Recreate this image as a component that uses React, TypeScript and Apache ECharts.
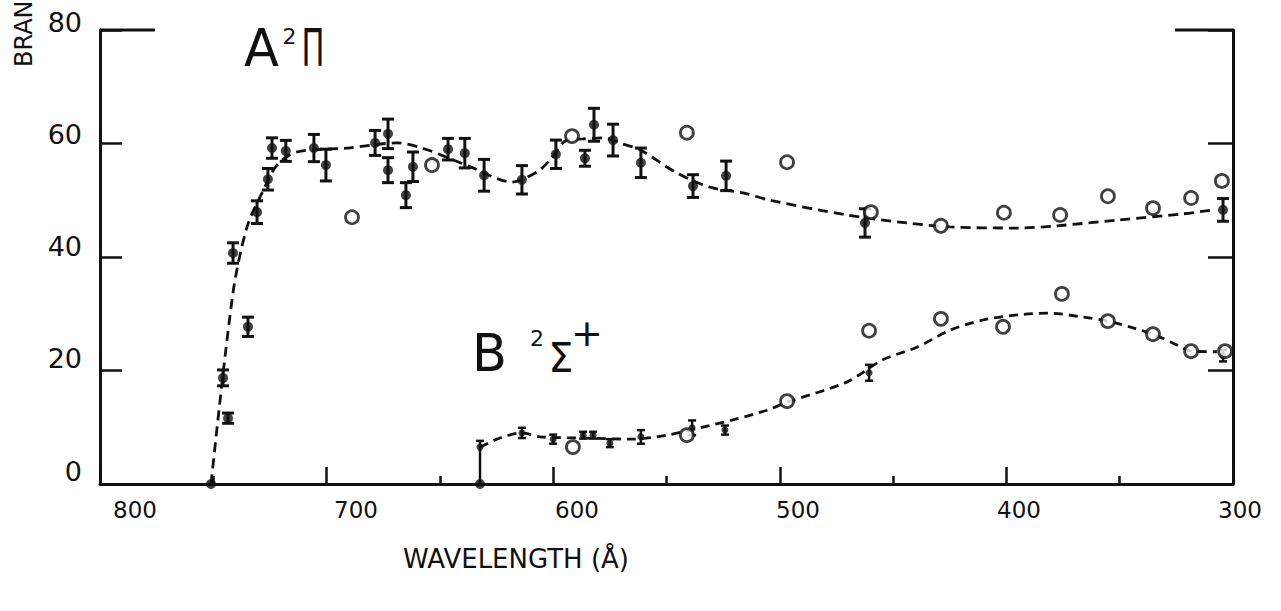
import { useEffect, useRef } from "react";
import * as echarts from "echarts";

// ---- tick labels ----
const xTickLabels = [800, 700, 600, 500, 400, 300];
const yTickLabels = [0, 20, 40, 60, 80];

// ---- A²Π : filled points with error bars ----
const aWave = [745.7, 743.5, 741.3, 734.7, 730.7, 725.9, 724.1, 718.0, 705.6, 700.3, 678.6, 672.9, 672.9, 665.0, 661.9, 646.4, 639.0, 630.5, 613.8, 598.8, 586.0, 582.0, 573.6, 561.3, 538.3, 523.7, 462.4, 304.4];
const aValue = [18.7, 11.6, 40.7, 27.7, 47.9, 53.7, 59.2, 58.7, 59.2, 56.2, 60.1, 61.7, 55.3, 50.9, 55.9, 59.0, 58.3, 54.4, 53.6, 58.1, 57.4, 63.3, 60.6, 56.6, 52.5, 54.3, 46.0, 48.3];
const aErr = [1.4, 0.9, 1.8, 1.7, 2.0, 1.9, 1.8, 1.85, 2.4, 2.8, 2.2, 2.6, 2.2, 2.2, 2.6, 1.9, 2.6, 2.8, 2.5, 2.5, 1.4, 2.9, 2.8, 2.6, 2.0, 2.6, 2.5, 2.0];

// ---- A²Π : open circles ----
const aOpenWave = [688.8, 653.5, 591.7, 541.0, 496.8, 459.8, 428.9, 401.1, 376.3, 355.2, 335.3, 318.5, 304.9];
const aOpenValue = [47.0, 56.2, 61.3, 61.9, 56.7, 47.9, 45.5, 47.8, 47.4, 50.7, 48.6, 50.4, 53.4];

// ---- A²Π : dashed fit ----
const aFitWave = [751.0, 741.3, 735.1, 728.5, 721.9, 713.1, 691.0, 668.9, 655.7, 635.4, 618.2, 607.1, 601.4, 593.9, 586.9, 578.0, 569.2, 561.7, 545.4, 530.8, 516.2, 504.3, 470.3, 443.9, 424.9, 395.3, 377.7, 351.2, 322.1, 308.8];
const aFitValue = [0, 33.7, 45.3, 51.3, 56.2, 58.5, 59.2, 60.1, 58.9, 55.7, 53.2, 55.0, 57.1, 60.6, 60.8, 61.0, 59.9, 58.9, 54.8, 52.3, 51.3, 50.0, 47.4, 46.0, 45.3, 45.1, 45.5, 46.5, 47.6, 48.3];

// ---- B²Σ+ : filled points with error bars ----
const bWave = [613.8, 600.0, 586.8, 582.4, 575.0, 561.3, 538.7, 524.2, 460.6, 304.4];
const bValue = [9.0, 7.9, 8.6, 8.6, 7.2, 8.3, 9.9, 9.5, 19.6, 22.6];
const bErr = [0.9, 0.8, 0.6, 0.6, 0.7, 1.2, 1.3, 0.8, 1.4, 1.0];

// B²Σ+ onset point: bar from zero up to the point
const bStemWave = [632.3];
const bStemTop = [7.6];
const bStemValue = [6.5];

// ---- B²Σ+ : open circles ----
const bOpenWave = [591.3, 541.0, 496.8, 460.6, 428.9, 401.5, 375.5, 355.2, 335.3, 318.5, 303.5];
const bOpenValue = [6.5, 8.6, 14.6, 27.0, 29.1, 27.7, 33.5, 28.7, 26.4, 23.4, 23.4];

// ---- B²Σ+ : dashed fit ----
const bFitWave = [632.3, 623.5, 613.8, 605.8, 585.1, 564.8, 549.8, 535.2, 520.7, 505.7, 496.8, 470.3, 454.5, 439.5, 424.9, 410.3, 395.3, 380.8, 366.2, 355.2, 344.1, 335.3, 324.7, 318.5, 307.1];
const bFitValue = [6.5, 8.1, 9.0, 8.3, 8.1, 7.9, 8.6, 9.9, 11.3, 13.0, 14.4, 18.0, 21.9, 24.1, 27.1, 28.9, 29.8, 30.1, 29.4, 28.7, 27.5, 26.4, 24.5, 23.4, 23.3];

// ---- threshold points on the axis ----
const zeroWave = [751.0, 632.3];
const zeroValue = [0, 0];

const INK = "#111";
const FONT = "DejaVu Sans";

function errorBarSeries(data: number[][], capHalf: number, width: number) {
  return {
    type: "custom",
    xAxisIndex: 0,
    yAxisIndex: 0,
    z: 4,
    encode: { x: 0, y: [1, 2] },
    data,
    renderItem: (_params: any, api: any) => {
      const x = api.value(0);
      const lo = api.coord([x, api.value(1)]);
      const hi = api.coord([x, api.value(2)]);
      const style = { stroke: INK, lineWidth: width, fill: null };
      return {
        type: "group",
        children: [
          { type: "line", shape: { x1: lo[0], y1: lo[1], x2: hi[0], y2: hi[1] }, style },
          { type: "line", shape: { x1: lo[0] - capHalf, y1: lo[1], x2: lo[0] + capHalf, y2: lo[1] }, style },
          { type: "line", shape: { x1: hi[0] - capHalf, y1: hi[1], x2: hi[0] + capHalf, y2: hi[1] }, style },
        ],
      };
    },
  };
}

export default function App() {
  const ref = useRef<HTMLDivElement>(null);

  useEffect(() => {
    if (!ref.current) return;
    const chart = echarts.init(ref.current, null, { renderer: "svg" });

    const zip = (xs: number[], ys: number[]) => xs.map((x, i) => [x, ys[i]]);

    const option: any = {
      animation: false,
      backgroundColor: "#fff",
      grid: [
        { left: 100, right: 48, top: 30, bottom: 127 },
        // label-only grid (the printed tick labels sit slightly off the ticks)
        { left: 135, right: 41, top: 22, bottom: 140 },
      ],
      xAxis: [
        {
          type: "value",
          gridIndex: 0,
          position: "bottom",
          min: 300,
          max: 800,
          interval: 100,
          inverse: true,
          axisLine: { show: true, onZero: false, lineStyle: { color: INK, width: 3 } },
          axisTick: { show: true, inside: true, length: 17, lineStyle: { color: INK, width: 2.5 } },
          minorTick: { show: true, splitNumber: 2, length: 8, lineStyle: { color: INK, width: 2.5 } },
          axisLabel: { show: false },
          splitLine: { show: false },
        },
        {
          type: "value",
          gridIndex: 1,
          position: "bottom",
          min: 300,
          max: 800,
          interval: 100,
          inverse: true,
          axisLine: { show: false, onZero: false },
          axisTick: { show: false },
          splitLine: { show: false },
          axisLabel: {
            show: true,
            customValues: xTickLabels,
            showMinLabel: true,
            showMaxLabel: true,
            margin: 27,
            color: INK,
            fontFamily: FONT,
            fontSize: 23,
          },
        },
      ],
      yAxis: [
        {
          type: "value",
          gridIndex: 0,
          position: "left",
          min: 0,
          max: 80,
          interval: 20,
          axisLine: { show: true, onZero: false, lineStyle: { color: INK, width: 3 } },
          axisTick: { show: true, inside: true, length: 22, lineStyle: { color: INK, width: 2.5 } },
          axisLabel: { show: false },
          splitLine: { show: false },
        },
        {
          type: "value",
          gridIndex: 0,
          position: "right",
          min: 0,
          max: 80,
          interval: 20,
          axisLine: { show: true, onZero: false, lineStyle: { color: INK, width: 3 } },
          axisTick: { show: true, inside: true, length: 25, lineStyle: { color: INK, width: 2.5 } },
          axisLabel: { show: false },
          splitLine: { show: false },
        },
        {
          type: "value",
          gridIndex: 1,
          position: "left",
          min: 0,
          max: 80,
          interval: 20,
          axisLine: { show: false, onZero: false },
          axisTick: { show: false },
          splitLine: { show: false },
          axisLabel: {
            show: true,
            customValues: yTickLabels,
            showMinLabel: true,
            showMaxLabel: true,
            margin: 53,
            color: INK,
            fontFamily: FONT,
            fontSize: 27,
          },
        },
      ],
      series: [
        {
          type: "line",
          data: zip(aFitWave, aFitValue),
          smooth: 0.3,
          showSymbol: false,
          z: 2,
          lineStyle: { color: INK, width: 2.8, type: [10, 6] },
        },
        {
          type: "line",
          data: zip(bFitWave, bFitValue),
          smooth: 0.3,
          showSymbol: false,
          z: 2,
          lineStyle: { color: INK, width: 2.8, type: [9, 6] },
        },
        errorBarSeries(aWave.map((w, i) => [w, aValue[i] - aErr[i], aValue[i] + aErr[i]]), 6, 3),
        errorBarSeries(bWave.map((w, i) => [w, bValue[i] - bErr[i], bValue[i] + bErr[i]]), 4, 2.5),
        errorBarSeries(bStemWave.map((w, i) => [w, 0, bStemTop[i]]), 4, 2.5),
        {
          type: "scatter",
          data: zip(aWave, aValue),
          symbol: "circle",
          symbolSize: 10,
          z: 5,
          itemStyle: { color: INK },
        },
        {
          type: "scatter",
          data: zip(bWave, bValue).concat(zip(bStemWave, bStemValue)),
          symbol: "circle",
          symbolSize: 7,
          z: 5,
          itemStyle: { color: INK },
        },
        {
          type: "scatter",
          data: zip(zeroWave, zeroValue),
          symbol: "circle",
          symbolSize: 10,
          z: 5,
          itemStyle: { color: INK },
        },
        {
          type: "scatter",
          data: zip(aOpenWave, aOpenValue).concat(zip(bOpenWave, bOpenValue)),
          symbol: "circle",
          symbolSize: 13,
          z: 6,
          itemStyle: { color: "#fff", borderColor: INK, borderWidth: 2.8 },
        },
      ],
      graphic: [
        // partial top frame
        { type: "line", shape: { x1: 100, y1: 30, x2: 155, y2: 30 }, style: { stroke: INK, lineWidth: 3 } },
        { type: "line", shape: { x1: 1175, y1: 30, x2: 1233, y2: 30 }, style: { stroke: INK, lineWidth: 3 } },
        // y-axis title as printed (only its beginning is visible)
        {
          type: "text",
          x: 12,
          y: 67,
          rotation: Math.PI / 2,
          style: { text: "BRAN", fill: INK, font: `24px "${FONT}"`, align: "left", verticalAlign: "top" },
        },
        // x-axis title
        {
          type: "text",
          x: 516,
          y: 559,
          style: { text: "WAVELENGTH (Å)", fill: INK, font: `26px "${FONT}"`, align: "center", verticalAlign: "middle" },
        },
        // A²Π label
        { type: "text", x: 261.5, y: 48.5, style: { text: "A", fill: INK, font: `51px "${FONT}"`, align: "center", verticalAlign: "middle" } },
        { type: "text", x: 289.5, y: 36, style: { text: "2", fill: INK, font: `22px "${FONT}"`, align: "center", verticalAlign: "middle" } },
        { type: "text", x: 313, y: 48.5, scaleX: 0.6, style: { text: "Π", fill: INK, font: `51px "${FONT}"`, align: "center", verticalAlign: "middle" } },
        // B²Σ+ label
        { type: "text", x: 489.5, y: 353.5, style: { text: "B", fill: INK, font: `51px "${FONT}"`, align: "center", verticalAlign: "middle" } },
        { type: "text", x: 537, y: 338, style: { text: "2", fill: INK, font: `22px "${FONT}"`, align: "center", verticalAlign: "middle" } },
        { type: "text", x: 561, y: 357.5, style: { text: "Σ", fill: INK, font: `40px "${FONT}"`, align: "center", verticalAlign: "middle" } },
        { type: "text", x: 587, y: 333, style: { text: "+", fill: INK, font: `38px "${FONT}"`, align: "center", verticalAlign: "middle" } },
      ],
    };

    chart.setOption(option);
    return () => chart.dispose();
  }, []);

  return (
    <div
      ref={ref}
      style={{ position: "fixed", left: 0, top: 0, width: 1281, height: 611, background: "#fff" }}
    />
  );
}
